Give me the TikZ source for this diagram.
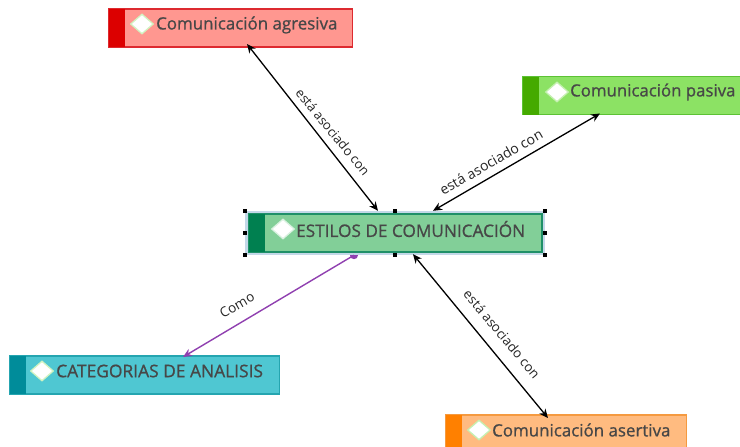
\documentclass[tikz,border=0pt]{standalone}
\usepackage{fontspec}
\setmainfont{Open Sans}
\usetikzlibrary{shapes.geometric,arrows.meta}
\definecolor{redfill}{HTML}{FF9790}\definecolor{redline}{HTML}{DD2A30}\definecolor{redtab}{HTML}{DC0000}
\definecolor{grnfill}{HTML}{8CE264}\definecolor{grnline}{HTML}{5CC234}\definecolor{grntab}{HTML}{45AA00}
\definecolor{midfill}{HTML}{82CF98}\definecolor{midline}{HTML}{1F9068}\definecolor{midtab}{HTML}{008050}
\definecolor{halo}{HTML}{C3D8E8}
\definecolor{catfill}{HTML}{4FC7D2}\definecolor{catline}{HTML}{25A5B0}\definecolor{cattab}{HTML}{008C9A}
\definecolor{orgfill}{HTML}{FFBB80}\definecolor{orgline}{HTML}{F59A40}\definecolor{orgtab}{HTML}{FF8000}
\definecolor{purp}{HTML}{9040B0}
\newfontfamily\boldish[FakeBold=0.9]{Open Sans}
\tikzset{
 box/.style={draw=#1line,fill=#1fill,line width=1.3pt,inner sep=0pt,outer sep=0pt},
 tabbar/.style={fill=#1tab,draw=none,inner sep=0pt,outer sep=0pt,minimum width=16pt},
 gem/.style={diamond,draw=#1,fill=white,line width=1.3pt,minimum width=23pt,minimum height=20pt,inner sep=0pt},
 title/.style={anchor=west,inner sep=0pt,font=\fontsize{#1}{18}\boldish,text=black!72},
 handle/.style={fill=black,draw=none,inner sep=0pt,minimum size=4.5pt},
 rel/.style={black,line width=1.3pt,{Stealth[length=9pt,width=8pt]}-{Stealth[length=9pt,width=8pt]}},
 lab/.style={font=\fontsize{#1}{15}\selectfont,text=black!85,inner sep=0pt},
}
\begin{document}
\begin{tikzpicture}[x=1pt,y=-1pt]
\useasboundingbox (0,0) rectangle (740,447);
\clip (0,0) rectangle (740,447);
\fill[white] (0,0) rectangle (740,447);
% central
\node[fill=halo,inner sep=0pt,minimum width=300pt,minimum height=44pt] (halo) at (395,233) {};
\node[box=mid,minimum width=293pt,minimum height=38pt] (mid) at (395.5,233) {};
\node[tabbar=mid,minimum height=38pt,anchor=west] (midt) at (mid.west) {};
\node[gem=white!70!midfill] (midd) at (283,229) {};
\node[title=17.2] (midl) at (296,229) {ESTILOS DE COMUNICACIÓN};
\foreach \n/\a in {h1/north west,h2/north,h3/north east,h4/west,h5/east,h6/south west,h7/south,h8/south east}
  \node[handle] (\n) at (halo.\a) {};
% red
\node[box=red,minimum width=244pt,minimum height=38pt] (red) at (230.5,28) {};
\node[tabbar=red,minimum height=38pt,anchor=west] (redt) at (red.west) {};
\node[gem=white!60!grnfill] (redd) at (142,24) {};
\node[title=16.9] (redl) at (156,25) {Comunicación agresiva};
% green
\node[box=grn,minimum width=226pt,minimum height=38pt] (grn) at (636,95.5) {};
\node[tabbar=grn,minimum height=38pt,anchor=west] (grnt) at (grn.west) {};
\node[gem=white!50!grnfill] (grnd) at (557,92) {};
\node[title=16.8] (grnl) at (570,92) {Comunicación pasiva};
% cat
\node[box=cat,minimum width=270pt,minimum height=38pt] (cat) at (144.5,375) {};
\node[tabbar=cat,minimum height=38pt,anchor=west] (catt) at (cat.west) {};
\node[gem=white!60!grnfill] (catd) at (42,371) {};
\node[title=17.4] (catl) at (56,371) {CATEGORIAS DE ANALISIS};
% orange
\node[box=org,minimum width=241pt,minimum height=40pt] (org) at (566,435) {};
\node[tabbar=org,minimum height=40pt,anchor=west] (orgt) at (org.west) {};
\node[gem=white!50!grnfill] (orgd) at (479,430) {};
\node[title=16.9] (orgl) at (492,430) {Comunicación asertiva};
% connectors
\draw[rel] ([xshift=16.5pt,yshift=3pt]red.south) -- ([xshift=-17pt]halo.north);
\draw[rel] ([xshift=38pt]halo.north) -- ([xshift=-36pt,yshift=1pt]grn.south);
\draw[rel] ([xshift=18pt,yshift=1pt]halo.south) -- ([xshift=-18pt,yshift=-3pt]org.north);
\draw[purp,line width=1.4pt,-{Stealth[length=9pt,width=8pt]}] ([xshift=-41pt]halo.south) -- ([xshift=38.5pt,yshift=-1pt]cat.north);
\fill[purp] ([xshift=-45pt]halo.south) arc[start angle=180,end angle=360,radius=4pt] -- cycle;
% labels
\node[lab=13,rotate=-50.5] (l1) at (333,132) {está asociado con};
\node[lab=14,rotate=30] (l2) at (491,162) {está asociado con};
\node[lab=13.5,rotate=30] (l3) at (237,305) {Como};
\node[lab=13.3,rotate=-50] (l4) at (502,334) {está asociado con};
\end{tikzpicture}
\end{document}
